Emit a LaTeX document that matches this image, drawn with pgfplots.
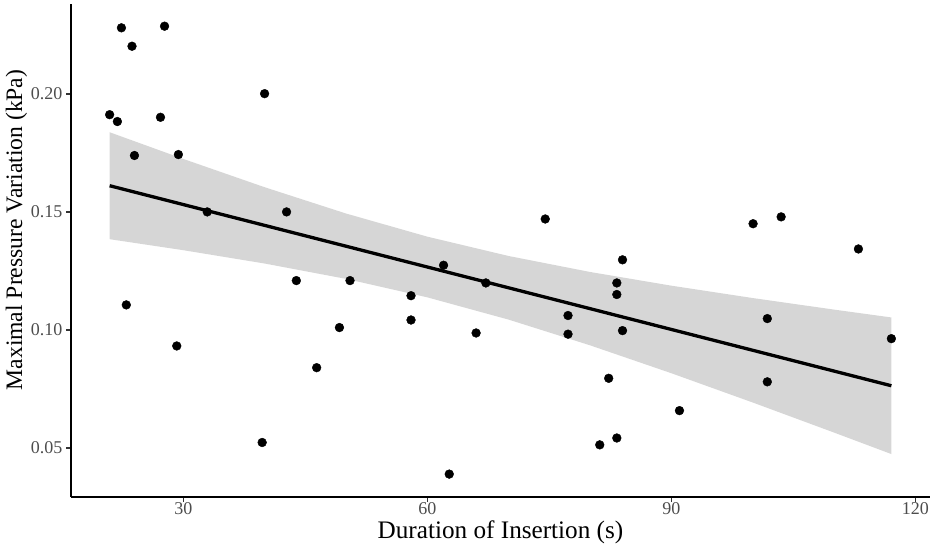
\documentclass[border=0pt]{standalone}
\usepackage{fontspec}
\setmainfont{Liberation Serif}
\usepackage{pgfplots}
\pgfplotsset{compat=1.18}
\definecolor{tickgray}{HTML}{4D4D4D}
\definecolor{gray60}{HTML}{999999}
\begin{document}
\begin{tikzpicture}
\begin{axis}[
  scale only axis,
  width=859bp, height=493bp,
  xmin=16.2, xmax=121.8, ymin=0.0292, ymax=0.2381,
  axis lines=left,
  axis line style={-, line width=1.6bp, black},
  xtick={30,60,90,120}, ytick={0.05,0.10,0.15,0.20},
  tick align=outside,
  major tick length=5bp,
  tick style={line width=1.2bp, color=black!80},
  scaled y ticks=false,
  /pgf/number format/assume math mode=true,
  yticklabel style={/pgf/number format/fixed, /pgf/number format/fixed zerofill, /pgf/number format/precision=2},
  xticklabel style={font=\fontsize{18bp}{21bp}\selectfont, text=tickgray, inner sep=0pt, yshift=0bp},
  yticklabel style={font=\fontsize{18bp}{21bp}\selectfont, text=tickgray, inner sep=0pt, xshift=-3.5bp},
  xlabel={Duration of Insertion (s)},
  xlabel style={font=\fontsize{25.2bp}{29bp}\selectfont, at={(axis description cs:0.5,-0.0476)}, anchor=north, inner sep=0pt, text=black},
  ylabel={Maximal Pressure Variation (kPa)},
  ylabel style={font=\fontsize{23.6bp}{28bp}\selectfont, at={(axis description cs:-0.0762,0.5416)}, anchor=north, inner sep=0pt, text=black},
  clip=false,
]
\coordinate (bl) at (rel axis cs:0,0);
\coordinate (tr) at (rel axis cs:1,1);
% data points
\addplot[only marks, mark=*, mark size=4.4bp, mark options={fill=black, draw=none}] coordinates {
(22.4,0.2280) (27.7,0.2287) (23.7,0.2202) (40.0,0.2001) (20.95,0.1912)
(21.9,0.1883) (27.2,0.1901) (24.0,0.1739) (29.4,0.1743) (32.95,0.1500)
(42.7,0.1500) (43.9,0.1209) (50.5,0.1209) (23.0,0.1106) (49.2,0.1010)
(29.2,0.0932) (46.4,0.0840) (39.7,0.0523) (74.5,0.1470) (84.0,0.1297)
(62.0,0.1274) (67.2,0.1199) (83.3,0.1199) (83.3,0.1150) (58.0,0.1145)
(58.0,0.1042) (77.3,0.1061) (77.3,0.0982) (84.0,0.0997) (66.0,0.0987)
(82.3,0.0795) (81.2,0.0513) (83.3,0.0542) (62.7,0.0389) (100.05,0.1450)
(103.5,0.1479) (113.0,0.1343) (101.8,0.1048) (117.05,0.0963) (101.8,0.0780)
(91.0,0.0658)
};
% confidence band
\addplot[fill=gray60, fill opacity=0.4, draw=none] coordinates {
(20.95,0.18376) (30,0.17246) (40,0.16047) (50,0.14933) (60,0.13952) (70,0.13132)
(80,0.12456) (90,0.11875) (100,0.11351) (110,0.10861) (117.05,0.10528)
(117.05,0.04740) (110,0.05651) (100,0.06925) (90,0.08165) (80,0.09348)
(70,0.10436) (60,0.11380) (50,0.12163) (40,0.12813) (30,0.13378) (20.95,0.13844)
} -- cycle;
% regression line
\addplot[black, line width=3.3bp] coordinates {(20.95,0.1611) (117.05,0.07634)};
\end{axis}
\pgfresetboundingbox
\path ([shift={(-71bp,-54bp)}]bl) rectangle ([shift={(5bp,4bp)}]tr);
\end{tikzpicture}
\end{document}
